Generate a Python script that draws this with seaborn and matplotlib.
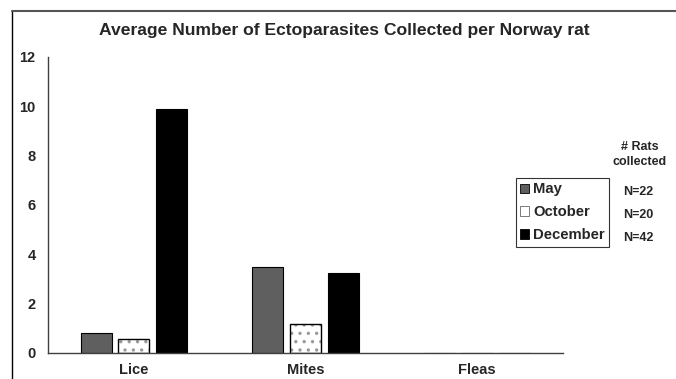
import matplotlib
matplotlib.use("Agg")
import matplotlib.pyplot as plt
import seaborn as sns
import pandas as pd
from matplotlib.patches import Patch, Rectangle
from matplotlib.lines import Line2D

categories = ["Lice", "Mites", "Fleas"]
months = ["May", "October", "December"]
may = [0.80, 3.50, 0.0]
october = [0.55, 1.18, 0.0]
december = [9.9, 3.23, 0.0]
n_rats = ["N=22", "N=20", "N=42"]
yticks = [0, 2, 4, 6, 8, 10, 12]

rows = []
for m, vals in zip(months, [may, october, december]):
    for c, v in zip(categories, vals):
        rows.append({"Parasite": c, "Month": m, "Value": v})
df = pd.DataFrame(rows)

sns.set_theme(style="white")
plt.rcParams['font.family'] = ['Liberation Sans', 'DejaVu Sans']
plt.rcParams['hatch.linewidth'] = 1.2

fig = plt.figure(figsize=(6.76, 3.79), dpi=100)
ax = fig.add_axes([48/676, 1-353/379, (563-48)/676, (353-57)/379])

colors = {"May": "#5f5f5f", "October": "#ffffff", "December": "#000000"}
sns.barplot(data=df, x="Parasite", y="Value", hue="Month", hue_order=months,
            order=categories, palette=colors, width=0.66, gap=0.18,
            edgecolor="black", linewidth=0.8, legend=False, ax=ax)

# dotted fill for October bars: gray hatch, then a black outline on top
for patch in ax.containers[1]:
    if patch.get_height() <= 0:
        continue
    patch.set_hatch("..")
    patch.set_edgecolor("#9a9a9a")
    patch.set_linewidth(0)
    ax.add_patch(Rectangle(patch.get_xy(), patch.get_width(), patch.get_height(),
                           fill=False, edgecolor="black", linewidth=1.0, zorder=patch.get_zorder() + 0.1))

ax.set_xlim(-0.5, 2.5)
ax.set_ylim(0, 12)
ax.set_yticks(yticks)
ax.set_yticklabels([str(t) for t in yticks], fontweight="bold", fontsize=10.5)
ax.set_xticks(range(len(categories)))
ax.set_xticklabels(categories, fontweight="bold", fontsize=10.5)
ax.tick_params(axis="y", length=0, pad=9)
ax.tick_params(axis="x", length=0, pad=7)
ax.set_xlabel("")
ax.set_ylabel("")
for s in ["top", "right"]:
    ax.spines[s].set_visible(False)
for s in ["left", "bottom"]:
    ax.spines[s].set_color("#404040")
    ax.spines[s].set_linewidth(1.0)

fig.text(344/676, 1-30/379, "Average Number of Ectoparasites Collected per Norway rat",
         ha="center", va="center", fontsize=12.6, fontweight="bold")

# frame lines
fig.add_artist(Line2D([12/676, 12/676], [0, 1-11/379], transform=fig.transFigure,
                      color="black", lw=1.0))
fig.add_artist(Line2D([12/676, 1], [1-11/379, 1-11/379], transform=fig.transFigure,
                      color="#555555", lw=1.5))

handles = [Patch(facecolor=colors[m], edgecolor=("#666666" if m == "October" else "black"),
                 linewidth=0.6) for m in months]
leg = fig.legend(handles, months, loc="upper left",
                 bbox_to_anchor=(516/676, 1-178/379),
                 prop={"weight": "bold", "size": 10.7},
                 frameon=True, fancybox=False, edgecolor="black",
                 handlelength=0.6, handleheight=0.6, handletextpad=0.25,
                 labelspacing=0.6, borderpad=0.3, borderaxespad=0)
leg.get_frame().set_linewidth(0.8)

for i, t in enumerate(n_rats):
    fig.text(638/676, 1-(192 + 23*i)/379, t, ha="center", va="center",
             fontsize=9, fontweight="bold")
fig.text(640/676, 1-147/379, "# Rats", ha="center", va="center", fontsize=9, fontweight="bold")
fig.text(640/676, 1-162/379, "collected", ha="center", va="center", fontsize=9, fontweight="bold")

fig.savefig("out.png", dpi=100)
